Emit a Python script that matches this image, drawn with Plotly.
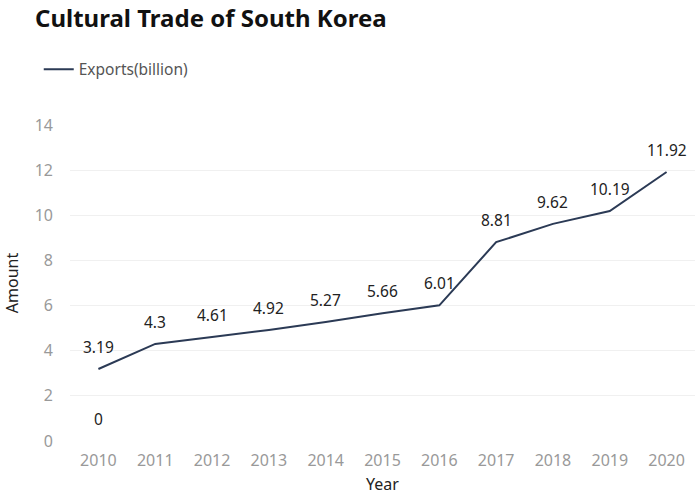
import plotly.graph_objects as go

years = [2010, 2011, 2012, 2013, 2014, 2015, 2016, 2017, 2018, 2019, 2020]
exports = [3.19, 4.3, 4.61, 4.92, 5.27, 5.66, 6.01, 8.81, 9.62, 10.19, 11.92]
extra_years = [2010]
extra_values = [0]
y_ticks = [0, 2, 4, 6, 8, 10, 12, 14]

line_color = "#2b3a55"
font_family = "'Noto Sans', 'Open Sans', Arial, sans-serif"

fig = go.Figure()
fig.add_trace(go.Scatter(
    x=years, y=exports, mode="lines", name="Exports(billion)",
    line=dict(color=line_color, width=2),
))

annotations = []
for xv, yv in zip(years + extra_years, exports + extra_values):
    annotations.append(dict(
        x=xv, y=yv, xref="x", yref="y", text=str(yv), showarrow=False,
        yshift=22, font=dict(size=15.5, color="#222222", family=font_family),
    ))

fig.update_layout(
    width=695, height=495,
    margin=dict(l=70, r=0, t=125, b=54),
    paper_bgcolor="white", plot_bgcolor="white",
    font=dict(family=font_family),
    title=dict(text="<b>Cultural Trade of South Korea</b>", x=35/695, xanchor="left",
               xref="container", y=1 - 19/495, yanchor="middle", yref="container",
               font=dict(size=24, color="#111111")),
    showlegend=True,
    legend=dict(orientation="h", x=-0.05, xanchor="left", y=1.175, yanchor="middle",
                font=dict(size=15.5, color="#555555"), itemwidth=30),
    annotations=annotations,
    xaxis=dict(
        range=[2009.5, 2020.5], tickvals=years, ticktext=[str(y) for y in years],
        showgrid=False, zeroline=False, showline=False,
        tickfont=dict(size=16, color="#999999"), ticklabelstandoff=8,
        title=dict(text="Year", font=dict(size=16, color="#222222"), standoff=8),
    ),
    yaxis=dict(
        range=[0, 14], tickvals=y_ticks, showgrid=True, gridcolor="#f0f0f0", gridwidth=1,
        zeroline=False, showline=False,
        tickfont=dict(size=16, color="#999999"), ticklabelstandoff=16,
        title=dict(text="Amount", font=dict(size=16, color="#222222"), standoff=12),
    ),
)

fig.write_html("out.html")
